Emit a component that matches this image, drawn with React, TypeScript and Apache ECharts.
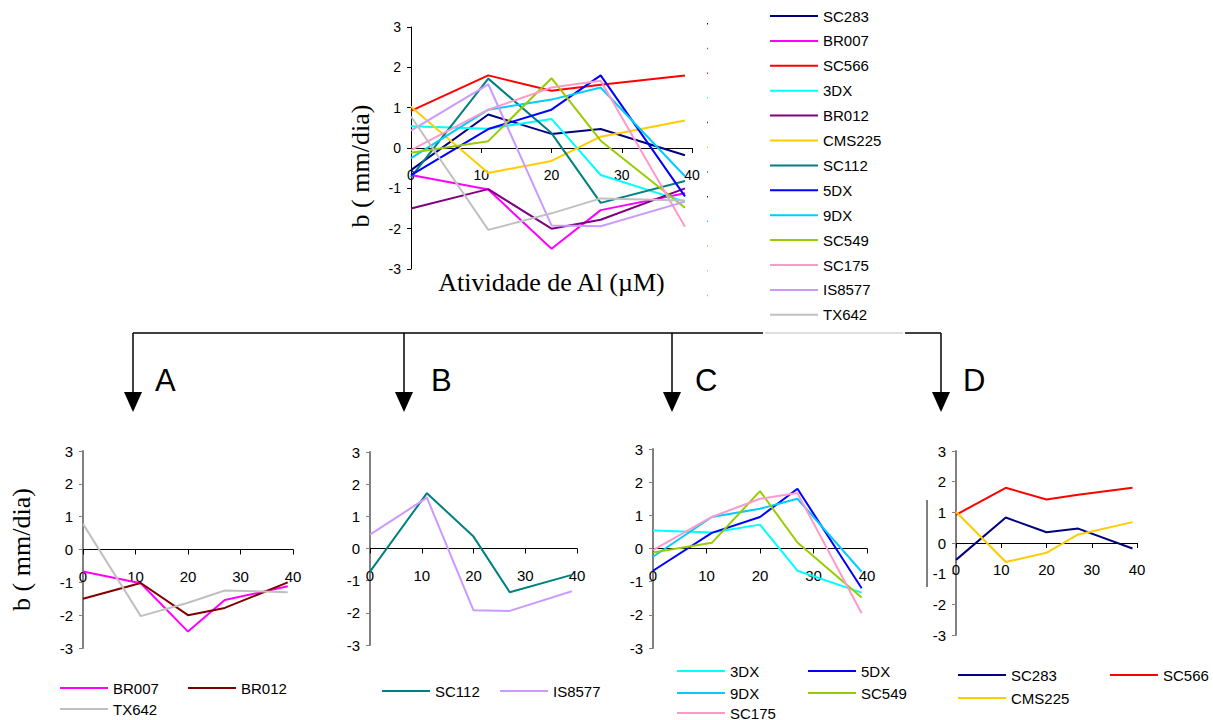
import React, { useEffect, useRef } from "react";
import * as echarts from "echarts";

// Al activity (µM) at which b was measured
const X = [0, 11, 20, 27, 39];

// b (mm/dia) per genotype
const SC283 = [-0.55, 0.83, 0.35, 0.47, -0.18];
const BR007 = [-0.67, -1.03, -2.5, -1.54, -1.12];
const SC566 = [0.92, 1.8, 1.42, 1.57, 1.8];
const DX3 = [0.54, 0.48, 0.72, -0.67, -1.33];
const BR012 = [-1.5, -1.02, -2.0, -1.78, -1.0];
const CMS225 = [1.02, -0.62, -0.32, 0.28, 0.68];
const SC112 = [-0.72, 1.72, 0.37, -1.36, -0.82];
const DX5 = [-0.67, 0.47, 0.95, 1.8, -1.2];
const DX9 = [-0.25, 0.95, 1.2, 1.5, -0.7];
const SC549 = [-0.12, 0.17, 1.73, 0.18, -1.48];
const SC175 = [-0.05, 0.95, 1.5, 1.67, -1.95];
const IS8577 = [0.43, 1.58, -1.92, -1.94, -1.33];
const TX642 = [0.78, -2.03, -1.62, -1.25, -1.3];

const X_TICKS = [0, 10, 20, 30, 40];
const Y_TICKS = [-3, -2, -1, 0, 1, 2, 3];
const PANEL_LETTERS = ["A", "B", "C", "D"];

const MAIN = [
  { name: "SC283", values: SC283, color: "#000080" },
  { name: "BR007", values: BR007, color: "#FF00FF" },
  { name: "SC566", values: SC566, color: "#FF0000" },
  { name: "3DX", values: DX3, color: "#00FFFF" },
  { name: "BR012", values: BR012, color: "#800080" },
  { name: "CMS225", values: CMS225, color: "#FFCC00" },
  { name: "SC112", values: SC112, color: "#008080" },
  { name: "5DX", values: DX5, color: "#0000FF" },
  { name: "9DX", values: DX9, color: "#00CCFF" },
  { name: "SC549", values: SC549, color: "#99CC00" },
  { name: "SC175", values: SC175, color: "#FF99CC" },
  { name: "IS8577", values: IS8577, color: "#CC99FF" },
  { name: "TX642", values: TX642, color: "#C0C0C0" },
];

const PANEL_A = [
  { name: "BR007", values: BR007, color: "#FF00FF" },
  { name: "BR012", values: BR012, color: "#800000" },
  { name: "TX642", values: TX642, color: "#C0C0C0" },
];
const PANEL_B = [
  { name: "SC112", values: SC112, color: "#008080" },
  { name: "IS8577", values: IS8577, color: "#CC99FF" },
];
const PANEL_C = [
  { name: "3DX", values: DX3, color: "#00FFFF" },
  { name: "5DX", values: DX5, color: "#0000FF" },
  { name: "9DX", values: DX9, color: "#00CCFF" },
  { name: "SC549", values: SC549, color: "#99CC00" },
  { name: "SC175", values: SC175, color: "#FF99CC" },
];
const PANEL_D = [
  { name: "SC283", values: SC283, color: "#000080" },
  { name: "SC566", values: SC566, color: "#FF0000" },
  { name: "CMS225", values: CMS225, color: "#FFCC00" },
];

export default function App() {
  const ref = useRef<HTMLDivElement>(null);

  useEffect(() => {
    if (!ref.current) return;
    const chart = echarts.init(ref.current, undefined, { renderer: "svg" });

    const grids = [
      { left: 411, top: 27, width: 281, height: 242 },
      { left: 83, top: 451, width: 210, height: 197 },
      { left: 370, top: 452, width: 207, height: 193 },
      { left: 653, top: 449, width: 214, height: 199 },
      { left: 956, top: 451, width: 181, height: 184 },
    ];

    const sans = "'Liberation Sans', Arial, sans-serif";
    const serif = "'Liberation Serif', 'Times New Roman', serif";

    // x axis drawn through y = 0, which is the middle of each -3..3 grid
    const xAxes = grids.map((g, i) => ({
      type: "value",
      gridIndex: i,
      position: "bottom",
      offset: -g.height / 2,
      min: X_TICKS[0],
      max: X_TICKS[X_TICKS.length - 1],
      interval: 10,
      axisLine: { onZero: false, lineStyle: { color: "#000", width: 1 } },
      axisTick: { show: true, length: 5, lineStyle: { color: "#000" } },
      axisLabel: {
        color: "#000",
        fontFamily: sans,
        fontSize: i === 0 ? 14 : 15,
        margin: i === 0 ? 20 : 19,
        showMinLabel: true,
        showMaxLabel: true,
      },
      splitLine: { show: false },
      ...(i === 0
        ? {
            name: "Atividade de Al (µM)",
            nameLocation: "middle",
            nameGap: 121,
            nameTextStyle: { fontFamily: serif, fontSize: 26, color: "#000" },
          }
        : {}),
    }));

    const yAxes = grids.map((g, i) => ({
      type: "value",
      gridIndex: i,
      min: Y_TICKS[0],
      max: Y_TICKS[Y_TICKS.length - 1],
      interval: 1,
      axisLine: {
        show: true,
        onZero: false,
        lineStyle: { color: i === 0 ? "#000" : "#808080", width: i === 0 ? 1 : 2 },
      },
      axisTick: { show: true, length: 4, lineStyle: { color: i === 0 ? "#000" : "#808080" } },
      axisLabel: { color: "#000", fontFamily: sans, fontSize: i === 0 ? 14 : 15, margin: 10 },
      splitLine: { show: false },
      ...(i === 0
        ? {
            name: "b ( mm/dia)",
            nameLocation: "middle",
            nameGap: 38,
            nameRotate: 90,
            nameTextStyle: { fontFamily: serif, fontSize: 26, color: "#000", padding: [0, 36, 0, 0] },
          }
        : i === 1
        ? {
            name: "b ( mm/dia)",
            nameLocation: "middle",
            nameGap: 49,
            nameRotate: 90,
            nameTextStyle: { fontFamily: serif, fontSize: 26, color: "#000" },
          }
        : {}),
    }));

    const mk = (s: any, gi: number) => ({
      type: "line",
      name: s.name,
      xAxisIndex: gi,
      yAxisIndex: gi,
      data: X.map((x, k) => [x, s.values[k]]),
      symbol: "none",
      showSymbol: false,
      color: s.color,
      itemStyle: { color: s.color },
      lineStyle: { color: s.color, width: 2 },
      silent: true,
    });

    const series = [
      ...MAIN.map((s) => mk(s, 0)),
      ...PANEL_A.map((s) => mk(s, 1)),
      ...PANEL_B.map((s) => mk(s, 2)),
      ...PANEL_C.map((s) => mk(s, 3)),
      ...PANEL_D.map((s) => mk(s, 4)),
    ];

    const legendText = { color: "#000", fontFamily: sans, fontSize: 15, lineHeight: 16 };
    const legendBase = {
      icon: "rect",
      itemWidth: 48,
      itemHeight: 2,
      padding: 0,
      textStyle: legendText,
      selectedMode: false,
    };

    // bottom legend item placements: [series, iconLeft, centerY]
    const bottomLegend: [any, number, number][] = [
      [PANEL_A[0], 60, 688],
      [PANEL_A[1], 188, 688],
      [PANEL_A[2], 60, 709],
      [PANEL_B[0], 382, 691],
      [PANEL_B[1], 500, 691],
      [PANEL_C[0], 677, 671],
      [PANEL_C[1], 808, 671],
      [PANEL_C[2], 677, 693],
      [PANEL_C[3], 808, 693],
      [PANEL_C[4], 677, 713],
      [PANEL_D[0], 958, 675],
      [PANEL_D[1], 1110, 675],
      [PANEL_D[2], 958, 698],
    ];

    const legends: any[] = [
      {
        ...legendBase,
        orient: "vertical",
        left: 770,
        top: 8,
        itemGap: 8.9,
        data: MAIN.map((s) => ({ name: s.name, itemStyle: { color: s.color } })),
      },
      ...bottomLegend.map(([s, x, cy]) => ({
        ...legendBase,
        orient: "horizontal",
        left: x,
        top: cy - 8,
        data: [{ name: s.name, itemStyle: { color: s.color } }],
      })),
    ];

    const arrowXs = [133, 404, 672, 941];
    const letterXs = [155, 431, 695, 963];
    const graphic: any[] = [
      { type: "line", shape: { x1: 133, y1: 333, x2: 763, y2: 333 }, style: { stroke: "#000", lineWidth: 1.5 } },
      { type: "line", shape: { x1: 765, y1: 333, x2: 903, y2: 333 }, style: { stroke: "#BDBDBD", lineWidth: 1 } },
      { type: "line", shape: { x1: 905, y1: 333, x2: 941, y2: 333 }, style: { stroke: "#000", lineWidth: 1.5 } },
      ...arrowXs.map((x) => ({
        type: "line",
        shape: { x1: x, y1: 333, x2: x, y2: 393 },
        style: { stroke: "#000", lineWidth: 1.5 },
      })),
      ...arrowXs.map((x) => ({
        type: "polygon",
        shape: { points: [[x - 9, 392], [x + 9, 392], [x, 412]] },
        style: { fill: "#000" },
      })),
      ...PANEL_LETTERS.map((t, i) => ({
        type: "text",
        x: letterXs[i],
        y: 380,
        style: { text: t, fontFamily: sans, fontSize: 31, fill: "#000", verticalAlign: "middle", align: "left" },
      })),
      { type: "line", shape: { x1: 927, y1: 500, x2: 927, y2: 587 }, style: { stroke: "#000", lineWidth: 1 } },
      ...MAIN.slice(0, 12).map((s, i) => ({
        type: "rect",
        shape: { x: 707, y: 23 + i * 24.7, width: 1, height: 1.5 },
        style: { fill: s.color },
      })),
    ];

    chart.setOption({
      animation: false,
      backgroundColor: "#fff",
      textStyle: { fontFamily: sans },
      grid: grids.map((g) => ({ ...g, containLabel: false })),
      xAxis: xAxes,
      yAxis: yAxes,
      legend: legends,
      series,
      graphic,
    });

    return () => chart.dispose();
  }, []);

  return (
    <div
      ref={ref}
      style={{ position: "absolute", left: 0, top: 0, width: 1213, height: 720, background: "#fff" }}
    />
  );
}
